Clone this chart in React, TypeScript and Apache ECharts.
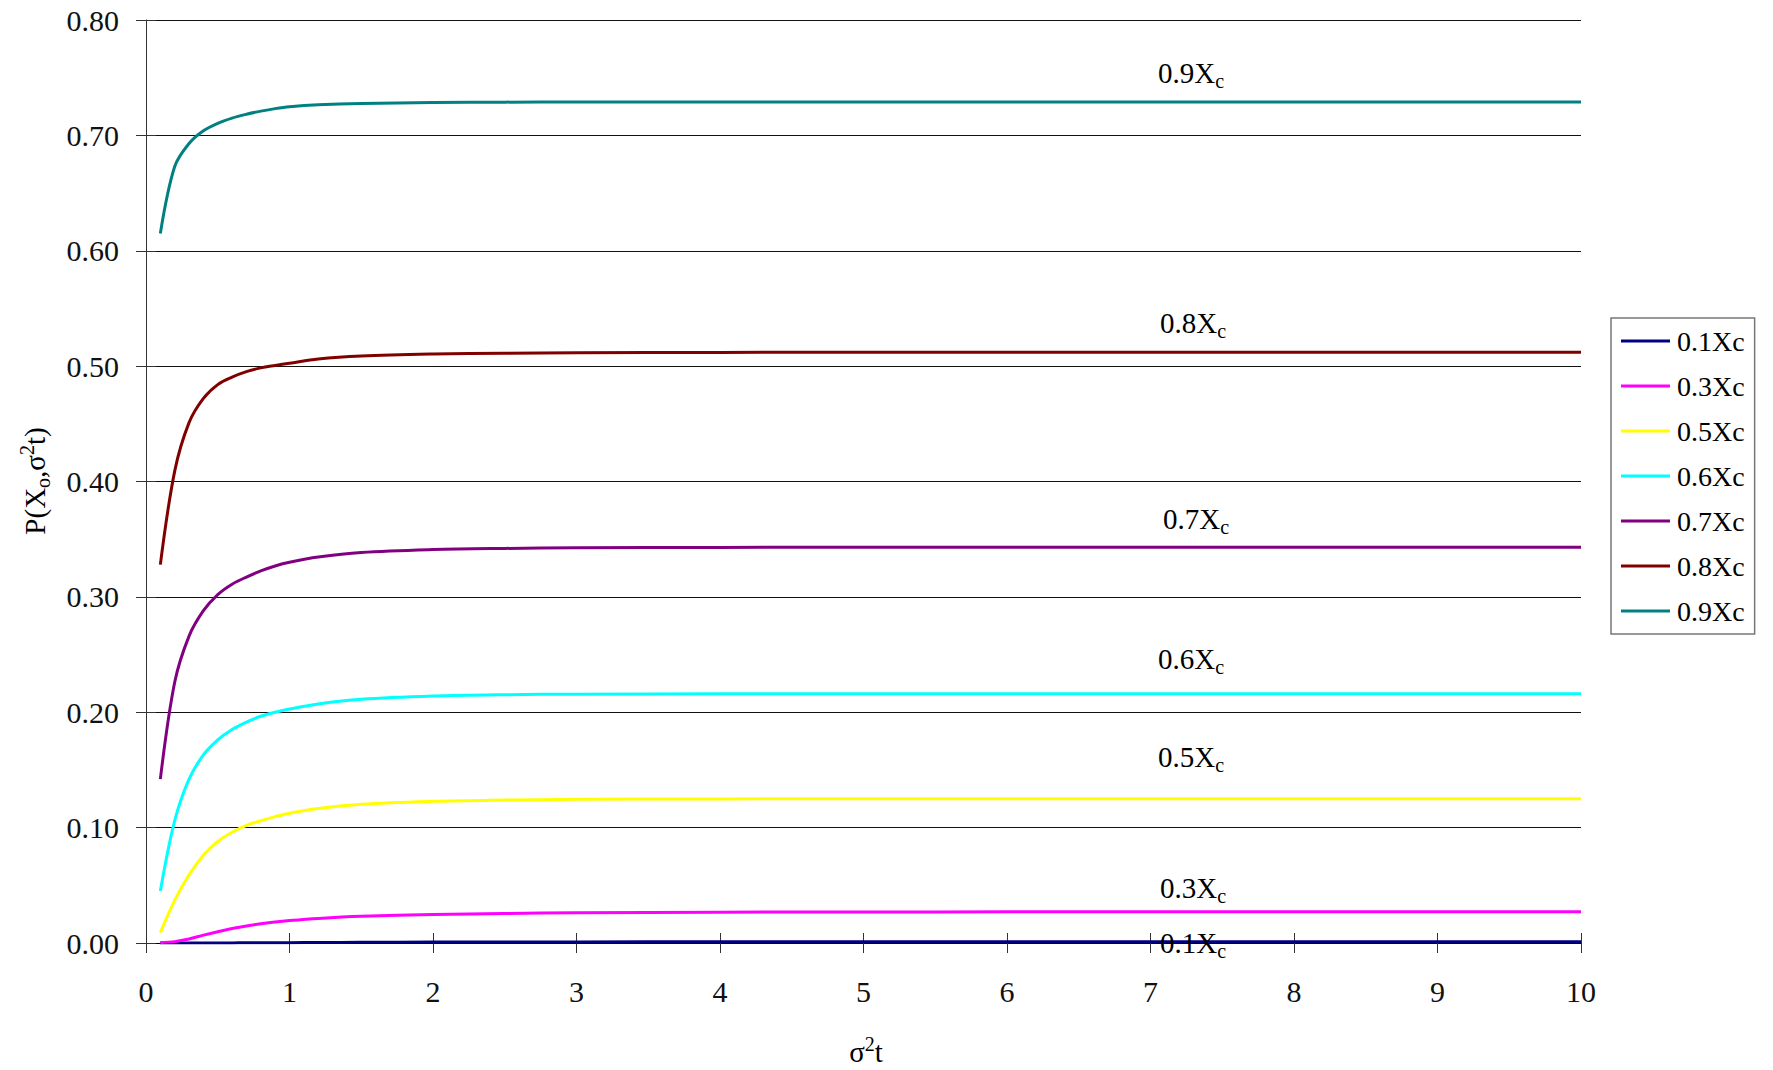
import React, { useEffect, useRef } from "react";
import * as echarts from "echarts";

// σ²t sample points shared by every curve
const xs = [0.1, 0.2, 0.3, 0.4, 0.5, 0.6, 0.7, 0.8, 0.9, 1.0, 1.2, 1.5, 2, 2.5, 3, 4, 5, 6, 7, 8, 9, 10];

// P(Xo, σ²t) for each starting level
const p01 = [0, 0, 0.00001, 0.00003, 0.00006, 0.0001, 0.00015, 0.0002, 0.00025, 0.0003, 0.0004, 0.0006, 0.0008, 0.0009, 0.00095, 0.001, 0.001, 0.001, 0.001, 0.001, 0.001, 0.001];
const p03 = [0.0003, 0.0012, 0.0035, 0.0068, 0.0098, 0.0125, 0.0148, 0.0167, 0.0183, 0.0195, 0.0213, 0.0231, 0.0247, 0.0256, 0.0262, 0.0267, 0.0269, 0.027, 0.027, 0.027, 0.027, 0.027];
const p05 = [0.009, 0.037, 0.059, 0.076, 0.088, 0.096, 0.102, 0.106, 0.1095, 0.1125, 0.1165, 0.1203, 0.1228, 0.1239, 0.1245, 0.1249, 0.125, 0.125, 0.125, 0.125, 0.125, 0.125];
const p06 = [0.045, 0.106, 0.142, 0.163, 0.176, 0.185, 0.1915, 0.1965, 0.2, 0.2028, 0.2072, 0.2112, 0.214, 0.2152, 0.2157, 0.216, 0.216, 0.216, 0.216, 0.216, 0.216, 0.216];
const p07 = [0.142, 0.226, 0.266, 0.288, 0.302, 0.311, 0.3172, 0.3225, 0.3268, 0.33, 0.3345, 0.3385, 0.341, 0.342, 0.3425, 0.3429, 0.343, 0.343, 0.343, 0.343, 0.343, 0.343];
const p08 = [0.328, 0.409, 0.451, 0.472, 0.484, 0.4905, 0.4952, 0.4985, 0.5006, 0.5025, 0.5062, 0.5088, 0.5105, 0.5112, 0.5116, 0.5119, 0.512, 0.512, 0.512, 0.512, 0.512, 0.512];
const p09 = [0.615, 0.673, 0.693, 0.704, 0.7105, 0.715, 0.7183, 0.721, 0.7232, 0.7248, 0.7265, 0.7277, 0.7284, 0.7288, 0.729, 0.729, 0.729, 0.729, 0.729, 0.729, 0.729, 0.729];

const seriesNames = ["0.1Xc", "0.3Xc", "0.5Xc", "0.6Xc", "0.7Xc", "0.8Xc", "0.9Xc"];
const seriesValues = [p01, p03, p05, p06, p07, p08, p09];
const seriesColors = ["#000080", "#FF00FF", "#FFFF00", "#00FFFF", "#800080", "#800000", "#008080"];

// in-plot curve labels: prefix before the subscript "c"
const curveLabels = ["0.1X", "0.3X", "0.5X", "0.6X", "0.7X", "0.8X", "0.9X"];
const curveLabelPos: [number, number][] = [
  [1160, 952],
  [1160, 897],
  [1158, 766],
  [1158, 668],
  [1163, 528],
  [1160, 332],
  [1158, 82],
];

const yTicks = [0, 0.1, 0.2, 0.3, 0.4, 0.5, 0.6, 0.7, 0.8];

const FONT = "'Liberation Serif', 'Times New Roman', serif";

const richMain = { fontFamily: FONT, fontSize: 29, lineHeight: 36, fill: "#000", color: "#000" };
const richSub = { fontFamily: FONT, fontSize: 20, lineHeight: 20, verticalAlign: "bottom", fill: "#000", color: "#000" };
const richSup = { fontFamily: FONT, fontSize: 20, lineHeight: 20, verticalAlign: "top", fill: "#000", color: "#000" };

export default function App() {
  const ref = useRef<HTMLDivElement>(null);

  useEffect(() => {
    if (!ref.current) return;
    const chart = echarts.init(ref.current, null, { renderer: "svg" });

    const axisBaseX = {
      type: "value",
      min: 0,
      max: 10,
      interval: 1,
      position: "bottom",
      splitLine: { show: false },
    };
    const axisBaseY = {
      type: "value",
      min: yTicks[0],
      max: yTicks[yTicks.length - 1],
      interval: 0.1,
      position: "left",
    };

    const graphics: any[] = curveLabels.map((t, i) => ({
      type: "text",
      x: curveLabelPos[i][0],
      y: curveLabelPos[i][1] - 27,
      z: 100,
      style: {
        text: `{a|${t}}{b|c}`,
        align: "left",
        verticalAlign: "top",
        fill: "#000",
        rich: { a: richMain, b: richSub },
      },
    }));

    // y-axis title, reading bottom to top
    graphics.push({
      type: "text",
      x: 35,
      y: 481,
      rotation: Math.PI / 2,
      style: {
        text: "{a|P(X}{b|o}{a|,σ}{c|2}{a|t)}",
        align: "center",
        verticalAlign: "middle",
        fill: "#000",
        rich: { a: richMain, b: richSub, c: richSup },
      },
    });

    // x-axis title
    graphics.push({
      type: "text",
      x: 866,
      y: 1034,
      style: {
        text: "{a|σ}{c|2}{a|t}",
        align: "center",
        verticalAlign: "top",
        fill: "#000",
        rich: { a: richMain, c: richSup },
      },
    });

    chart.setOption({
      animation: false,
      backgroundColor: "#fff",
      textStyle: { fontFamily: FONT },
      grid: { left: 146, right: 192, top: 20, bottom: 127, containLabel: false },
      legend: {
        orient: "vertical",
        left: 1611,
        top: 318,
        padding: [9, 10, 9, 10],
        itemGap: 17,
        itemWidth: 49,
        itemHeight: 3,
        icon: "rect",
        borderColor: "#777",
        borderWidth: 1.5,
        textStyle: { fontFamily: FONT, fontSize: 28, lineHeight: 28, color: "#000", padding: [0, 0, 0, 2] },
        data: seriesNames,
      },
      xAxis: [
        {
          ...axisBaseX,
          axisLine: { show: true, lineStyle: { color: "#000", width: 1 } },
          axisTick: { show: true, inside: false, length: 10, lineStyle: { color: "#333" } },
          axisLabel: { fontFamily: FONT, fontSize: 30, color: "#111", margin: 33 },
        },
        {
          ...axisBaseX,
          axisLine: { show: false },
          axisTick: { show: true, inside: true, length: 10, lineStyle: { color: "#333" } },
          axisLabel: { show: false },
        },
      ],
      yAxis: [
        {
          ...axisBaseY,
          axisLine: { show: true, lineStyle: { color: "#333", width: 1 } },
          axisTick: { show: true, inside: false, length: 10, lineStyle: { color: "#333" } },
          axisLabel: {
            fontFamily: FONT,
            fontSize: 30,
            color: "#111",
            margin: 27,
            formatter: (v: number) => v.toFixed(2),
          },
          splitLine: { show: true, lineStyle: { color: "#111", width: 1 } },
        },
        {
          ...axisBaseY,
          axisLine: { show: false },
          axisTick: { show: true, inside: true, length: 10, lineStyle: { color: "#333" } },
          axisLabel: { show: false },
          splitLine: { show: false },
        },
      ],
      series: seriesNames.map((name, i) => ({
        name,
        type: "line",
        xAxisIndex: 0,
        yAxisIndex: 0,
        data: xs.map((x, j) => [x, seriesValues[i][j]]),
        showSymbol: false,
        symbol: "none",
        smooth: 0.35,
        lineStyle: { color: seriesColors[i], width: 3 },
        itemStyle: { color: seriesColors[i] },
        z: 3 + i,
      })),
      graphic: graphics,
    });

    return () => chart.dispose();
  }, []);

  return (
    <div
      ref={ref}
      style={{ position: "fixed", left: 0, top: 0, width: 1773, height: 1070, background: "#fff" }}
    />
  );
}
